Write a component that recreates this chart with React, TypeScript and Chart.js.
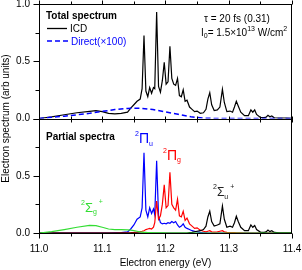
import React, { useEffect, useRef } from 'react';
import { Chart, registerables } from 'chart.js';

Chart.register(...registerables);

// ---------- data ----------
const energy = [
  11.000, 11.020, 11.040, 11.060, 11.080, 11.090, 11.100, 11.110, 11.120, 11.130, 11.140,
  11.145, 11.150, 11.155, 11.160, 11.163, 11.166, 11.169, 11.172, 11.175, 11.178,
  11.181, 11.183, 11.186, 11.189, 11.192, 11.195, 11.198, 11.201, 11.204, 11.207,
  11.210, 11.213, 11.216, 11.219, 11.222, 11.225, 11.228, 11.231, 11.234, 11.238,
  11.242, 11.246, 11.250, 11.255, 11.260, 11.264, 11.267, 11.270, 11.273, 11.277,
  11.282, 11.286, 11.290, 11.293, 11.297, 11.302, 11.306, 11.309, 11.312, 11.315,
  11.319, 11.325, 11.331, 11.335, 11.338, 11.341, 11.344, 11.350, 11.356, 11.359,
  11.362, 11.365, 11.368, 11.372, 11.380, 11.390, 11.400,
];

const icdTotal = [
  0.000, 0.015, 0.033, 0.050, 0.062, 0.068, 0.060, 0.045, 0.040, 0.045, 0.055,
  0.090, 0.120, 0.150, 0.170, 0.260, 0.725, 0.240, 0.190, 0.270, 0.220,
  0.270, 0.260, 0.930, 0.280, 0.230, 0.330, 0.490, 0.300, 0.320, 0.630,
  0.350, 0.300, 0.290, 0.350, 0.200, 0.190, 0.250, 0.150, 0.160, 0.100,
  0.080, 0.060, 0.065, 0.045, 0.050, 0.080, 0.170, 0.225, 0.120, 0.070,
  0.075, 0.100, 0.255, 0.140, 0.060, 0.065, 0.055, 0.100, 0.150, 0.110,
  0.055, 0.025, 0.025, 0.075, 0.055, 0.075, 0.035, 0.010, 0.008, 0.012,
  0.028, 0.015, 0.022, 0.006, 0.003, 0.003, 0.002,
];

const piU = [
  0.000, 0.000, 0.000, 0.000, 0.000, 0.000, 0.000, 0.000, 0.001, 0.003, 0.010,
  0.035, 0.070, 0.120, 0.140, 0.220, 0.700, 0.200, 0.140, 0.220, 0.170,
  0.210, 0.160, 0.630, 0.150, 0.090, 0.080, 0.085, 0.080, 0.090, 0.085,
  0.100, 0.090, 0.100, 0.070, 0.050, 0.060, 0.080, 0.050, 0.040, 0.030,
  0.020, 0.015, 0.010, 0.005, 0.002, 0.001, 0.000, 0.000, 0.000, 0.000,
  0.000, 0.000, 0.000, 0.000, 0.000, 0.000, 0.000, 0.000, 0.000, 0.000,
  0.000, 0.000, 0.000, 0.000, 0.000, 0.000, 0.000, 0.000, 0.000, 0.000,
  0.000, 0.000, 0.000, 0.000, 0.000, 0.000, 0.000,
];

const piG = [
  0.000, 0.000, 0.000, 0.000, 0.000, 0.000, 0.000, 0.000, 0.000, 0.001, 0.002,
  0.003, 0.005, 0.008, 0.012, 0.015, 0.020, 0.030, 0.035, 0.040, 0.035,
  0.050, 0.090, 0.280, 0.120, 0.150, 0.250, 0.420, 0.220, 0.240, 0.530,
  0.250, 0.220, 0.200, 0.295, 0.150, 0.140, 0.190, 0.110, 0.130, 0.080,
  0.060, 0.040, 0.045, 0.025, 0.015, 0.010, 0.015, 0.020, 0.010, 0.008,
  0.010, 0.015, 0.020, 0.010, 0.005, 0.004, 0.003, 0.003, 0.002, 0.002,
  0.001, 0.000, 0.000, 0.000, 0.000, 0.000, 0.000, 0.000, 0.000, 0.000,
  0.000, 0.000, 0.000, 0.000, 0.000, 0.000, 0.000,
];

const sigmaU = [
  0.000, 0.000, 0.000, 0.000, 0.000, 0.000, 0.000, 0.000, 0.000, 0.000, 0.000,
  0.000, 0.000, 0.000, 0.000, 0.000, 0.000, 0.000, 0.000, 0.000, 0.000,
  0.000, 0.000, 0.000, 0.000, 0.000, 0.000, 0.000, 0.000, 0.000, 0.000,
  0.000, 0.000, 0.000, 0.000, 0.000, 0.000, 0.000, 0.000, 0.000, 0.003,
  0.005, 0.010, 0.015, 0.020, 0.030, 0.060, 0.140, 0.190, 0.100, 0.060,
  0.070, 0.080, 0.235, 0.120, 0.050, 0.060, 0.050, 0.090, 0.146, 0.100,
  0.050, 0.020, 0.020, 0.070, 0.050, 0.065, 0.030, 0.008, 0.005, 0.010,
  0.025, 0.012, 0.020, 0.005, 0.002, 0.002, 0.001,
];

const sigmaG = [
  0.000, 0.012, 0.030, 0.050, 0.066, 0.065, 0.050, 0.035, 0.030, 0.030, 0.028,
  0.025, 0.020, 0.015, 0.010, 0.008, 0.006, 0.005, 0.004, 0.003, 0.003,
  0.002, 0.002, 0.002, 0.001, 0.001, 0.001, 0.001, 0.000, 0.000, 0.000,
  0.000, 0.000, 0.000, 0.000, 0.000, 0.000, 0.000, 0.000, 0.000, 0.000,
  0.000, 0.000, 0.000, 0.000, 0.000, 0.000, 0.000, 0.000, 0.000, 0.000,
  0.000, 0.000, 0.000, 0.000, 0.000, 0.000, 0.000, 0.000, 0.000, 0.000,
  0.000, 0.000, 0.000, 0.000, 0.000, 0.000, 0.000, 0.000, 0.000, 0.000,
  0.000, 0.000, 0.000, 0.000, 0.000, 0.000, 0.000,
];

const energyDirect = [
  11.00, 11.02, 11.04, 11.06, 11.08, 11.10, 11.12, 11.14, 11.16, 11.18,
  11.20, 11.22, 11.24, 11.26, 11.28, 11.30, 11.35, 11.40,
];
const direct = [
  0.000, 0.010, 0.020, 0.032, 0.045, 0.062, 0.078, 0.088, 0.090, 0.078,
  0.058, 0.037, 0.015, 0.003, 0.000, 0.000, 0.000, 0.000,
];

const xTickValues = [11.0, 11.1, 11.2, 11.3, 11.4];
const xMinorValues = [11.05, 11.15, 11.25, 11.35];
const yTickValues = [0, 0.5, 1.0];
const yMinorValues = [0.25, 0.75];

const FONT = "'Liberation Sans', Arial, Helvetica, sans-serif";

function points(xs: number[], ys: number[]) {
  return xs.map((x, i) => ({ x, y: ys[i] }));
}

type Part = { t: string; s: number; dy: number; bold?: boolean };

function drawRich(ctx: CanvasRenderingContext2D, x: number, y: number, color: string, parts: Part[]) {
  let cx = x;
  ctx.fillStyle = color;
  ctx.textBaseline = 'alphabetic';
  ctx.textAlign = 'left';
  for (const p of parts) {
    ctx.font = `${p.bold ? 'bold ' : ''}${p.s}px ${FONT}`;
    ctx.fillText(p.t, cx, y + p.dy);
    cx += ctx.measureText(p.t).width;
  }
}

const framePlugin = {
  id: 'frameAndText',
  afterDraw(chart: any) {
    const ctx: CanvasRenderingContext2D = chart.ctx;
    const xs = chart.scales.x;
    const yt = chart.scales.yTop;
    const yb = chart.scales.yBot;
    const L = chart.chartArea.left;
    const R = chart.chartArea.right;
    const T = yt.top;
    const M = yt.bottom;
    const B = yb.bottom;
    ctx.save();
    ctx.strokeStyle = '#000';
    ctx.lineWidth = 1;
    const line = (x1: number, y1: number, x2: number, y2: number) => {
      ctx.beginPath();
      ctx.moveTo(x1, y1);
      ctx.lineTo(x2, y2);
      ctx.stroke();
    };
    // frame
    line(Math.round(L) + 0.5, T, Math.round(L) + 0.5, B);
    line(Math.round(R) - 0.5, T, Math.round(R) - 0.5, B);
    line(L, Math.round(T) + 0.5, R, Math.round(T) + 0.5);
    line(L, Math.round(M) + 0.5, R, Math.round(M) + 0.5);
    line(L, Math.round(B) + 0.5, R, Math.round(B) + 0.5);
    // x ticks
    const xt = (v: number, major: boolean) => {
      const px = Math.round(xs.getPixelForValue(v)) + 0.5;
      const bl = major ? 5 : 3;
      line(px, Math.round(B) + 0.5, px, Math.round(B) + 0.5 + bl);
      line(px, Math.round(T) + 0.5, px, Math.round(T) + 0.5 - (major ? 4 : 3));
      line(px, Math.round(M) + 0.5 - 3, px, Math.round(M) + 0.5 + 3);
    };
    xTickValues.forEach((v) => xt(v, true));
    xMinorValues.forEach((v) => xt(v, false));
    // y ticks
    const yTick = (scale: any, v: number, major: boolean) => {
      const py = Math.round(scale.getPixelForValue(v)) + 0.5;
      line(Math.round(L) + 0.5, py, Math.round(L) + 0.5 - (major ? 6 : 4), py);
    };
    [yt, yb].forEach((s) => {
      yTickValues.forEach((v) => yTick(s, v, true));
      yMinorValues.forEach((v) => yTick(s, v, false));
    });

    // axis titles
    ctx.fillStyle = '#000';
    ctx.font = `10px ${FONT}`;
    ctx.textAlign = 'center';
    ctx.textBaseline = 'middle';
    ctx.save();
    ctx.translate(6, (T + B) / 2);
    ctx.rotate(-Math.PI / 2);
    ctx.fillText('Electron spectrum (arb units)', 0, 0);
    ctx.restore();
    ctx.fillText('Electron energy (eV)', (L + R) / 2, 263);

    // top panel legend
    drawRich(ctx, 46, 19, '#000', [{ t: 'Total spectrum', s: 10, dy: 0, bold: true }]);
    ctx.strokeStyle = '#000';
    ctx.lineWidth = 1.3;
    line(47, 28.5, 67, 28.5);
    drawRich(ctx, 70, 32, '#000', [{ t: 'ICD', s: 10, dy: 0 }]);
    ctx.strokeStyle = '#0000ff';
    ctx.lineWidth = 1.5;
    ctx.setLineDash([5, 3]);
    line(47, 41, 68, 41);
    ctx.setLineDash([]);
    drawRich(ctx, 71, 44.5, '#0000ff', [{ t: 'Direct(×100)', s: 10, dy: 0 }]);

    drawRich(ctx, 204, 22, '#000', [{ t: 'τ = 20 fs (0.31)', s: 10, dy: 0 }]);
    drawRich(ctx, 201, 35.5, '#000', [
      { t: 'I', s: 10, dy: 0 },
      { t: '0', s: 7, dy: 2.5 },
      { t: '= 1.5×10', s: 10, dy: 0 },
      { t: '13', s: 7, dy: -5 },
      { t: ' W/cm', s: 10, dy: 0 },
      { t: '2', s: 7, dy: -5 },
    ]);

    // bottom panel labels
    drawRich(ctx, 46, 140, '#000', [{ t: 'Partial spectra', s: 10, dy: 0, bold: true }]);
    drawRich(ctx, 135, 143, '#0000ff', [
      { t: '2', s: 7, dy: -7 },
      { t: 'Π', s: 14, dy: 0 },
      { t: 'u', s: 7, dy: 3 },
    ]);
    drawRich(ctx, 163, 160, '#ff0000', [
      { t: '2', s: 7, dy: -7 },
      { t: 'Π', s: 14, dy: 0 },
      { t: 'g', s: 7, dy: 2 },
    ]);
    drawRich(ctx, 213, 196, '#222222', [
      { t: '2', s: 7, dy: -7 },
      { t: 'Σ', s: 12, dy: 0 },
      { t: 'u', s: 7, dy: 3 },
      { t: ' +', s: 7, dy: -7 },
    ]);
    drawRich(ctx, 81, 212, '#33dd33', [
      { t: '2', s: 7, dy: -7 },
      { t: 'Σ', s: 13, dy: 0 },
      { t: 'g', s: 7, dy: 2 },
      { t: ' +', s: 7, dy: -8 },
    ]);
    ctx.restore();
  },
};

function yScale(hideTop: boolean, weight: number) {
  return {
    type: 'linear',
    position: 'left',
    stack: 'panels',
    stackWeight: 1,
    weight,
    min: 0,
    max: 1,
    grid: { display: false, drawTicks: false },
    border: { display: false },
    afterBuildTicks: (s: any) => {
      s.ticks = yTickValues.map((v) => ({ value: v }));
    },
    afterFit: (s: any) => {
      s.width = 39;
      s.paddingTop = 0;
      s.paddingBottom = 0;
    },
    ticks: {
      padding: 9,
      color: '#000',
      font: { size: 10, family: FONT },
      callback: (v: number) => (hideTop && v >= 0.99 ? '' : Number(v).toFixed(1)),
    },
  };
}

export default function App() {
  const ref = useRef<HTMLCanvasElement | null>(null);
  useEffect(() => {
    if (!ref.current) return;
    const line = (data: any[], color: string, axis: string, order: number, extra: any = {}) => ({
      data,
      borderColor: color,
      backgroundColor: color,
      borderWidth: 1.2,
      pointRadius: 0,
      tension: 0,
      fill: false,
      yAxisID: axis,
      order,
      ...extra,
    });
    const chart = new Chart(ref.current, {
      type: 'line',
      data: {
        datasets: [
          line(points(energy, icdTotal), '#000000', 'yTop', 2, { label: 'ICD' }),
          line(points(energyDirect, direct), '#0000ff', 'yTop', 1, { label: 'Direct(×100)', borderDash: [5, 3], borderWidth: 1.5 }),
          line(points(energy, piU), '#0000ff', 'yBot', 6, { label: '2Πu' }),
          line(points(energy, piG), '#ff0000', 'yBot', 5, { label: '2Πg' }),
          line(points(energy, sigmaU), '#000000', 'yBot', 4, { label: '2Σu+' }),
          line(points(energy, sigmaG), '#33dd33', 'yBot', 3, { label: '2Σg+' }),
        ],
      },
      options: {
        animation: false,
        responsive: false,
        maintainAspectRatio: false,
        layout: { padding: { top: 4, right: 10, left: 0, bottom: 0 } },
        plugins: { legend: { display: false }, tooltip: { enabled: false } },
        scales: {
          x: {
            type: 'linear',
            position: 'bottom',
            min: 11.0,
            max: 11.4,
            grid: { display: false, drawTicks: false },
            border: { display: false },
            afterBuildTicks: (s: any) => {
              s.ticks = xTickValues.map((v) => ({ value: v }));
            },
            afterFit: (s: any) => {
              s.height = 37;
              s.paddingLeft = 0;
              s.paddingRight = 0;
            },
            ticks: {
              padding: 10,
              maxRotation: 0,
              autoSkip: false,
              color: '#000',
              font: { size: 10, family: FONT },
              callback: (v: number) => Number(v).toFixed(1),
            },
          },
          yTop: yScale(false, 1),
          yBot: yScale(true, 0),
        } as any,
      },
      plugins: [framePlugin],
    } as any);
    return () => chart.destroy();
  }, []);
  return (
    <div style={{ position: 'absolute', left: 0, top: 0, width: 302, height: 270, background: '#fff' }}>
      <canvas ref={ref} width={302} height={270} style={{ display: 'block' }} />
    </div>
  );
}
